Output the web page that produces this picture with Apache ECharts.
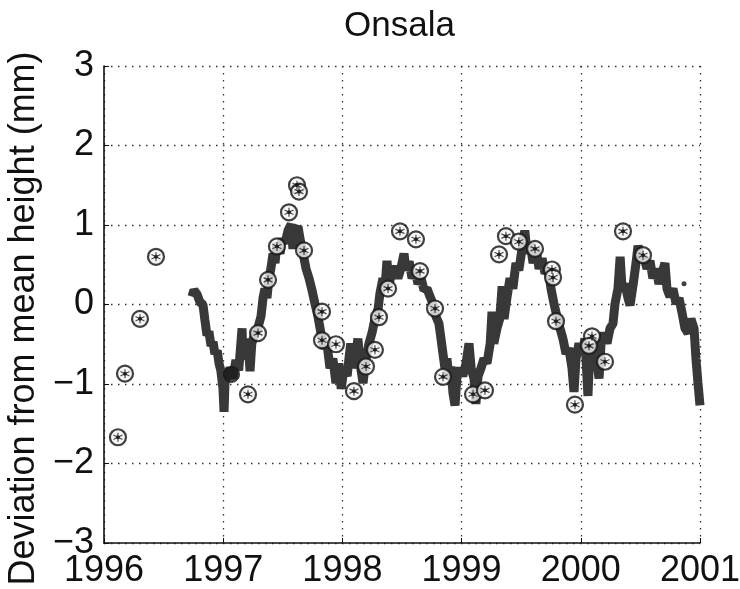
<!DOCTYPE html>
<html>
<head>
<meta charset="utf-8">
<script src="https://cdn.jsdelivr.net/npm/echarts@6/dist/echarts.min.js"></script>
<style>
html,body{margin:0;padding:0;background:#fff;}
#chart{width:740px;height:589px;}
</style>
</head>
<body>
<div id="chart"></div>
<script>
// Daily-solution band (decimal year, deviation mm)
const bandYears = [1996.738,1996.755,1996.78,1996.805,1996.83,1996.847,1996.864,1996.88,1996.898,1996.915,1996.93,1996.95,1996.965,1996.98,1996.998,1997.007,1997.015,1997.03,1997.057,1997.08,1997.107,1997.13,1997.158,1997.166,1997.19,1997.208,1997.225,1997.24,1997.267,1997.29,1997.317,1997.334,1997.35,1997.367,1997.384,1997.40,1997.418,1997.435,1997.45,1997.477,1997.493,1997.518,1997.544,1997.57,1997.585,1997.60,1997.628,1997.644,1997.67,1997.695,1997.72,1997.745,1997.77,1997.795,1997.82,1997.846,1997.87,1997.896,1997.92,1997.946,1997.97,1997.99,1998.013,1998.04,1998.055,1998.07,1998.09,1998.114,1998.13,1998.148,1998.173,1998.198,1998.223,1998.248,1998.273,1998.30,1998.315,1998.34,1998.357,1998.374,1998.39,1998.416,1998.44,1998.466,1998.49,1998.517,1998.533,1998.56,1998.584,1998.61,1998.634,1998.66,1998.685,1998.71,1998.735,1998.76,1998.785,1998.81,1998.827,1998.844,1998.86,1998.877,1998.894,1998.91,1998.928,1998.945,1998.96,1998.987,1999.01,1999.037,1999.062,1999.08,1999.104,1999.12,1999.138,1999.163,1999.188,1999.213,1999.24,1999.255,1999.27,1999.297,1999.32,1999.34,1999.356,1999.38,1999.406,1999.43,1999.456,1999.48,1999.507,1999.53,1999.55,1999.574,1999.60,1999.624,1999.65,1999.675,1999.70,1999.725,1999.75,1999.775,1999.80,1999.826,1999.85,1999.876,1999.90,1999.926,1999.943,1999.96,1999.985,2000.01,2000.035,2000.06,2000.077,2000.10,2000.128,2000.153,2000.17,2000.195,2000.22,2000.245,2000.27,2000.287,2000.312,2000.33,2000.346,2000.37,2000.396,2000.413,2000.44,2000.463,2000.48,2000.505,2000.53,2000.555,2000.58,2000.605,2000.63,2000.656,2000.68,2000.706,2000.723,2000.748,2000.773,2000.80,2000.824,2000.85,2000.874,2000.90,2000.924,2000.95,2000.966,2000.983,2001.0];
const bandValues = [0.10,0.18,0.13,0.03,0.0,-0.2,-0.39,-0.34,-0.52,-0.47,-0.62,-0.58,-0.74,-0.83,-1.06,-1.35,-0.99,-0.9,-0.8,-0.93,-0.7,-0.83,-0.30,-0.68,-0.62,-0.43,-0.84,-0.49,-0.36,-0.30,-0.15,0.08,0.2,0.08,0.33,0.45,0.64,0.52,0.77,0.64,0.83,0.77,0.93,1.01,0.70,0.93,0.98,0.83,0.64,0.45,0.33,0.18,0.01,-0.15,-0.36,-0.55,-0.49,-0.80,-0.68,-0.99,-0.74,-1.06,-0.8,-0.9,-0.68,-0.49,-0.8,-0.62,-0.43,-0.74,-0.99,-0.68,-0.49,-0.36,-0.18,-0.05,0.14,0.33,0.2,0.55,0.26,0.39,0.48,0.33,0.45,0.64,0.43,0.54,0.33,0.43,0.26,0.33,0.18,0.2,0.10,0.01,-0.15,-0.24,-0.43,-0.62,-0.8,-0.68,-0.93,-0.78,-1.12,-1.27,-0.93,-0.8,-0.9,-0.74,-0.49,-0.8,-0.93,-1.25,-0.9,-0.8,-0.68,-0.74,-0.49,-0.09,-0.49,-0.30,-0.18,0.23,-0.18,0.08,0.33,0.2,0.52,0.43,0.70,0.93,0.64,0.77,0.52,0.70,0.45,0.58,0.39,0.45,0.2,0.01,-0.15,-0.30,-0.43,-0.62,-0.55,-0.80,-1.10,-0.68,-0.49,-0.62,-0.43,-1.15,-0.55,-0.43,-0.62,-0.93,-0.49,-0.36,-0.49,-0.30,-0.24,0.01,0.2,0.60,0.2,0.26,0.08,-0.01,0.26,0.52,0.74,0.55,0.60,0.45,0.55,0.33,0.45,0.26,0.39,0.52,0.2,0.10,0.2,0.01,0.08,-0.11,-0.30,-0.36,-0.18,-0.30,-0.68,-0.99,-1.27];

// Circle-asterisk markers
const markerYears = [1996.117,1996.176,1996.302,1996.436,1997.208,1997.292,1997.376,1997.451,1997.552,1997.619,1997.636,1997.678,1997.829,1997.829,1997.946,1998.097,1998.198,1998.273,1998.307,1998.383,1998.483,1998.617,1998.651,1998.777,1998.844,1999.096,1999.196,1999.314,1999.372,1999.48,1999.616,1999.758,1999.767,1999.792,1999.951,2000.094,2000.069,2000.203,2000.354,2000.522];
const markerValues = [-1.67,-0.87,-0.18,0.60,-1.13,-0.36,0.31,0.73,1.16,1.50,1.42,0.68,-0.09,-0.45,-0.50,-1.09,-0.78,-0.57,-0.16,0.20,0.92,0.82,0.42,-0.05,-0.91,-1.13,-1.08,0.63,0.86,0.79,0.70,0.44,0.34,-0.21,-1.26,-0.40,-0.52,-0.72,0.92,0.62];

// Dark filled marker and isolated dot
const filledYears = [1997.07];
const filledValues = [-0.88];
const dotYears = [2000.866];
const dotValues = [0.26];

const xTicks = [1996,1997,1998,1999,2000,2001];
const yTicks = [-3,-2,-1,0,1,2,3];

const zip = (a,b) => a.map((v,i)=>[v,b[i]]);
const FONT = '"Liberation Sans", Arial, Helvetica, sans-serif';
const asterisk = 'path://M5,0L5,10M0.67,2.5L9.33,7.5M0.67,7.5L9.33,2.5';

const chart = echarts.init(document.getElementById('chart'), null, {renderer:'canvas'});
chart.setOption({
  animation:false,
  backgroundColor:'#ffffff',
  title:{text:'Onsala', left:339, top:4,
    textStyle:{fontFamily:FONT, fontSize:35, fontWeight:'normal', color:'#111'}},
  grid:{left:104, right:40, top:66, bottom:46, outerBoundsMode:'none', containLabel:false},
  xAxis:{type:'value', min:xTicks[0], max:xTicks[xTicks.length-1], interval:1,
    axisLine:{show:true, onZero:false, lineStyle:{color:'#111', width:1.6}},
    axisTick:{show:true, inside:true, length:5, lineStyle:{color:'#111'}},
    axisLabel:{fontFamily:FONT, fontSize:36, color:'#111', margin:10,
      formatter:v => String(v)},
    splitLine:{show:true, lineStyle:{color:'#333', width:1.3, type:[1.5,5.5]}}},
  yAxis:{type:'value', min:yTicks[0], max:yTicks[yTicks.length-1], interval:1,
    name:'Deviation from mean height (mm)', nameLocation:'middle', nameGap:58,
    nameTextStyle:{fontFamily:FONT, fontSize:36, color:'#111', padding:[0,28,0,0]},
    axisLine:{show:true, lineStyle:{color:'#111', width:1.6}},
    axisTick:{show:true, inside:true, length:5, lineStyle:{color:'#111'}},
    axisLabel:{fontFamily:FONT, fontSize:36, color:'#111', margin:10,
      formatter:v => String(v).replace('-', '\u2212')},
    splitLine:{show:true, lineStyle:{color:'#333', width:1.3, type:[1.5,5.5]}}},
  series:[
    {type:'line', data:zip(bandYears,bandValues), showSymbol:false, symbol:'none',
      lineStyle:{color:'#383838', width:9}, z:2},
    {type:'scatter', data:zip(markerYears,markerValues), symbol:'circle', symbolSize:16,
      itemStyle:{color:'#f4f4f4', borderColor:'#111', borderWidth:2.2}, z:3},
    {type:'scatter', data:zip(markerYears,markerValues), symbol:asterisk, symbolSize:9,
      itemStyle:{color:'none', borderColor:'#222', borderWidth:1.2}, z:4},
    {type:'scatter', data:zip(markerYears,markerValues), symbol:'circle', symbolSize:4,
      itemStyle:{color:'#111'}, z:5},
    {type:'scatter', data:zip(filledYears,filledValues), symbol:'circle', symbolSize:16,
      itemStyle:{color:'#1a1a1a', borderColor:'#111', borderWidth:1}, z:3},
    {type:'scatter', data:zip(dotYears,dotValues), symbol:'circle', symbolSize:5,
      itemStyle:{color:'#111'}, z:3}
  ]
});
</script>
</body>
</html>
